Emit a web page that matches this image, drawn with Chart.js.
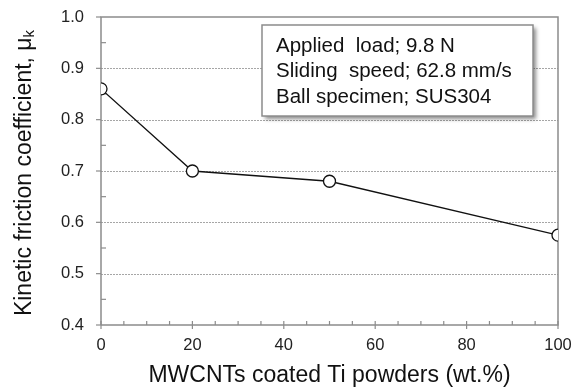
<!DOCTYPE html>
<html><head><meta charset="utf-8">
<script src="https://cdn.jsdelivr.net/npm/chart.js@4.4.0/dist/chart.umd.min.js"></script>
<style>html,body{margin:0;padding:0;background:#fff}#wrap{width:578px;height:392px;position:relative}</style>
</head><body><div id="wrap"><canvas id="c" width="578" height="392"></canvas></div>
<script>
const xValues = [0, 20, 50, 100];
const yValues = [0.86, 0.70, 0.68, 0.575];
const xTicks = [0, 20, 40, 60, 80, 100];
const yTicks = [0.4, 0.5, 0.6, 0.7, 0.8, 0.9, 1.0];
const xTitle = 'MWCNTs coated Ti powders (wt.%)';
const yTitleMain = 'Kinetic friction coefficient, μ';
const yTitleSub = 'k';
const noteLines = ['Applied  load; 9.8 N', 'Sliding  speed; 62.8 mm/s', 'Ball specimen; SUS304'];

const FONT = '"Liberation Sans", Arial, sans-serif';
const axisColor = '#8c8c8c';

const decor = {
  id: 'decor',
  beforeDatasetsDraw(chart) {
    const {ctx, chartArea: a, scales: {x, y}} = chart;
    ctx.save();
    ctx.strokeStyle = '#a6a6a6'; ctx.lineWidth = 1; ctx.setLineDash([2, 1]);
    yTicks.forEach(v => {
      if (v <= 0.4 || v >= 1.0) return;
      const py = Math.round(y.getPixelForValue(v)) + 0.5;
      ctx.beginPath(); ctx.moveTo(a.left, py); ctx.lineTo(a.right, py); ctx.stroke();
    });
    ctx.setLineDash([]);
    ctx.strokeStyle = axisColor; ctx.lineWidth = 1.5;
    ctx.beginPath();
    ctx.moveTo(a.left, a.bottom); ctx.lineTo(a.left, a.top); ctx.lineTo(a.right, a.top); ctx.lineTo(a.right, a.bottom); ctx.lineTo(a.left, a.bottom);
    ctx.stroke();
    ctx.lineWidth = 1.2;
    for (let v = 0; v <= 100; v += 5) {
      const px = x.getPixelForValue(v);
      ctx.beginPath();
      if (v % 20 === 0) { ctx.moveTo(px, a.bottom - 4); ctx.lineTo(px, a.bottom + 4); }
      else { ctx.moveTo(px, a.bottom - 4); ctx.lineTo(px, a.bottom); }
      ctx.stroke();
    }
    for (let i = 0; i < yTicks.length; i++) {
      const v = yTicks[i];
      const py = y.getPixelForValue(v);
      ctx.beginPath(); ctx.moveTo(a.left - 5, py); ctx.lineTo(a.left, py); ctx.stroke();
      if (i < yTicks.length - 1) {
        const pm = y.getPixelForValue((v + yTicks[i + 1]) / 2);
        ctx.beginPath(); ctx.moveTo(a.left, pm); ctx.lineTo(a.left + 5, pm); ctx.stroke();
      }
    }
    ctx.restore();
  },
  afterDatasetsDraw(chart) {
    const {ctx} = chart;
    ctx.save();
    const bx = 262, by = 25, bw = 271, bh = 91;
    ctx.shadowColor = 'rgba(0,0,0,0.45)'; ctx.shadowBlur = 4; ctx.shadowOffsetX = 3; ctx.shadowOffsetY = 3;
    ctx.fillStyle = '#fff'; ctx.fillRect(bx, by, bw, bh);
    ctx.shadowColor = 'transparent';
    ctx.strokeStyle = '#8c8c8c'; ctx.lineWidth = 1.5; ctx.strokeRect(bx, by, bw, bh);
    ctx.fillStyle = '#111'; ctx.font = '20.5px ' + FONT; ctx.textBaseline = 'middle';
    noteLines.forEach((t, i) => ctx.fillText(t, 276, 46 + i * 25.5));
    ctx.translate(25, 173); ctx.rotate(-Math.PI / 2);
    ctx.font = '23px ' + FONT; ctx.fillStyle = '#111'; ctx.textBaseline = 'middle';
    const w1 = ctx.measureText(yTitleMain).width;
    ctx.font = '15px ' + FONT;
    const w2 = ctx.measureText(yTitleSub).width;
    const start = -(w1 + w2) / 2;
    ctx.font = '23px ' + FONT; ctx.fillText(yTitleMain, start, 0);
    ctx.font = '15px ' + FONT; ctx.fillText(yTitleSub, start + w1, 5);
    ctx.restore();
  }
};

new Chart(document.getElementById('c'), {
  type: 'scatter',
  data: { datasets: [{
    data: xValues.map((v, i) => ({x: v, y: yValues[i]})),
    showLine: true, borderColor: '#111', borderWidth: 1.3,
    pointRadius: 6, pointBackgroundColor: '#fff', pointBorderColor: '#111', pointBorderWidth: 1.3
  }]},
  options: {
    responsive: false, animation: false,
    layout: { padding: { left: 0, right: 20, top: 17, bottom: 0 } },
    plugins: { legend: { display: false }, tooltip: { enabled: false } },
    scales: {
      x: {
        type: 'linear', min: 0, max: 100, afterBuildTicks: s => { s.ticks = xTicks.map(v => ({value: v})); },
        afterFit: s => { s.height = 67; s.paddingLeft = 0; s.paddingRight = 0; },
        grid: { display: false, drawTicks: false }, border: { display: false },
        ticks: { padding: 11, color: '#222', font: { size: 16.5, family: FONT }, maxRotation: 0 },
        title: { display: true, text: xTitle, color: '#111', font: { size: 23, family: FONT }, padding: { top: 0, bottom: 3 } }
      },
      y: {
        min: 0.4, max: 1.0, afterBuildTicks: s => { s.ticks = yTicks.map(v => ({value: v})); },
        afterFit: s => { s.width = 101; s.paddingTop = 0; s.paddingBottom = 0; },
        grid: { display: false, drawTicks: false }, border: { display: false },
        ticks: { padding: 17, color: '#222', font: { size: 16.5, family: FONT }, callback: v => v.toFixed(1) }
      }
    }
  },
  plugins: [decor]
});
</script></body></html>
